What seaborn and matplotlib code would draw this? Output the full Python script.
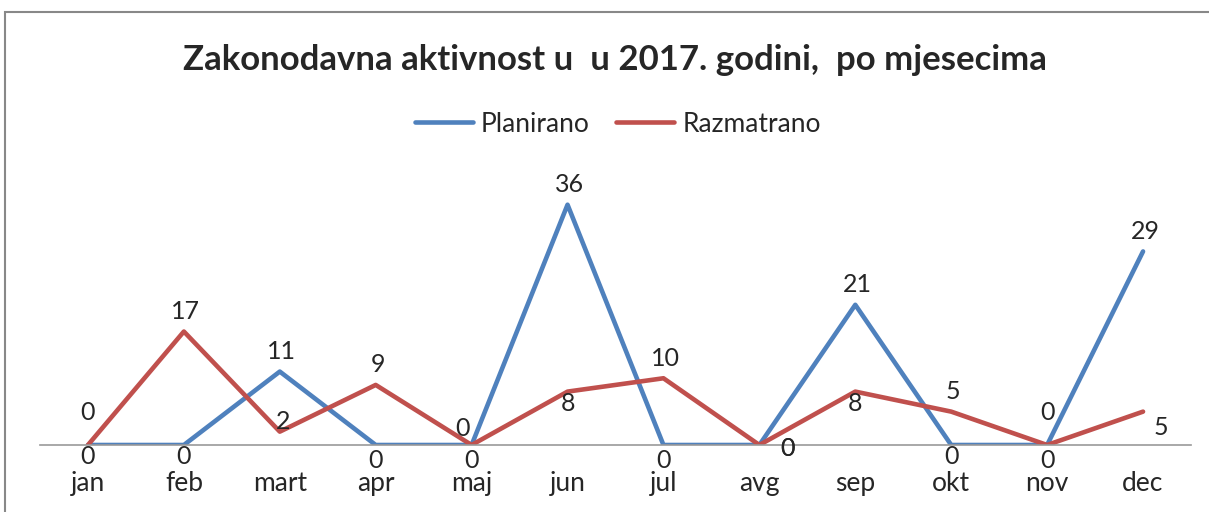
import pandas as pd
import seaborn as sns
import matplotlib.pyplot as plt
from matplotlib.patches import Rectangle

# chart data
months = ['jan', 'feb', 'mart', 'apr', 'maj', 'jun', 'jul', 'avg', 'sep', 'okt', 'nov', 'dec']
planirano = [0, 0, 11, 0, 0, 36, 0, 0, 21, 0, 0, 29]
razmatrano = [0, 17, 2, 9, 0, 8, 10, 0, 8, 5, 0, 5]
series_names = ['Planirano', 'Razmatrano']
title = 'Zakonodavna aktivnost u  u 2017. godini,  po mjesecima'

# where each value label sits relative to its point (a=above, b=below, r=right, c=centre)
plan_pos = ['b', 'b', 'a', 'B', 'B', 'a', 'B', 'r', 'a', 'b', 'B', 'a']
razm_pos = ['A', 'a', 'c', 'a', 'l', 'b', 'a', 'r', 'b', 'a', 'A', 'R']
offsets = {'a': (2, 20), 'A': (0, 32), 'b': (0, -12), 'B': (0, -16), 'r': (28, -3),
           'R': (18, -16), 'c': (3, 10), 'l': (-9, 17)}

df = pd.DataFrame({
    'mjesec': months * 2,
    'broj': planirano + razmatrano,
    'serija': [series_names[0]] * 12 + [series_names[1]] * 12,
})

sns.set_style('white')
plt.rcParams['font.family'] = ['Lato', 'DejaVu Sans']

fig = plt.figure(figsize=(12.09, 5.12), dpi=100)
ax = fig.add_axes([40 / 1209, 67 / 512, 1151 / 1209, 267 / 512])

palette = {'Planirano': '#4F81BD', 'Razmatrano': '#C0504D'}
sns.lineplot(data=df, x='mjesec', y='broj', hue='serija', palette=palette,
             sort=False, linewidth=3.3, ax=ax, legend=True)

ax.set_xlim(-0.5, 11.5)
ax.set_ylim(0, 40)
ax.set_xlabel('')
ax.set_ylabel('')
ax.set_yticks([])
ax.set_xticks(range(len(months)))
ax.set_xticklabels(months, fontsize=19)
ax.tick_params(axis='x', length=0, pad=19)
for side in ['top', 'right', 'left']:
    ax.spines[side].set_visible(False)
ax.spines['bottom'].set_color('#999999')
ax.spines['bottom'].set_linewidth(1.2)

# value labels
for values, pos in [(planirano, plan_pos), (razmatrano, razm_pos)]:
    for i, v in enumerate(values):
        dx, dy = offsets[pos[i]]
        ax.annotate(str(v), (i, v), xytext=(dx, dy), textcoords='offset pixels',
                    ha='center', va='center', fontsize=18, annotation_clip=False)

# legend on top
handles, labels = ax.get_legend_handles_labels()
for h in handles:
    h.set_linewidth(3.3)
ax.legend(handles, labels, loc='center', bbox_to_anchor=(618 / 1209, 1 - 124 / 512),
          bbox_transform=fig.transFigure, ncol=2, frameon=False, fontsize=19,
          handlelength=2.2, columnspacing=1.0, handletextpad=0.3)

fig.text(615 / 1209, 1 - 60 / 512, title, ha='center', va='center',
         fontsize=25, fontweight='bold')

# chart area border
fig.patches.append(Rectangle((5 / 1209, -0.1), 1.2, 1 - 12 / 512 + 0.1,
                             transform=fig.transFigure, fill=False,
                             edgecolor='#888888', linewidth=1.5))

fig.savefig('out.png', dpi=100)
